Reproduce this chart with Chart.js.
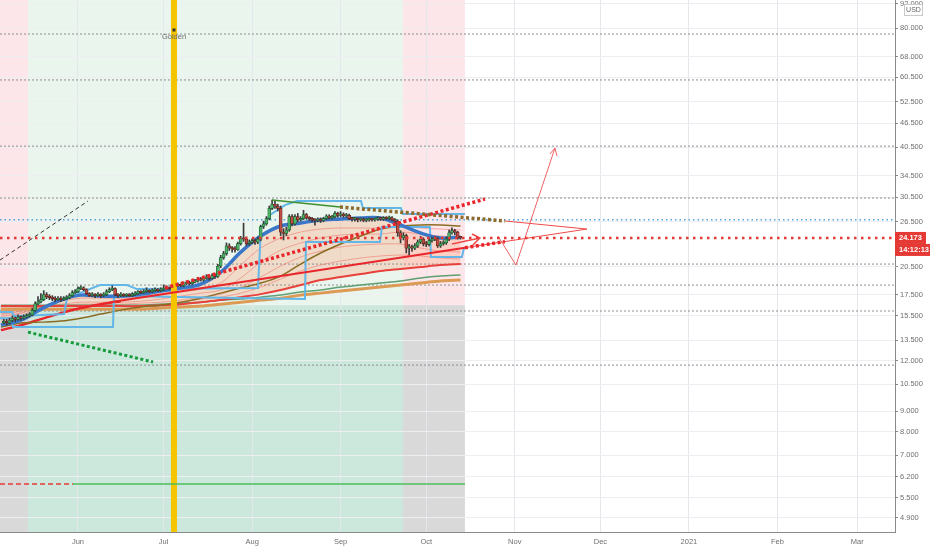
<!DOCTYPE html>
<html>
<head>
<meta charset="utf-8">
<script src="https://cdn.jsdelivr.net/npm/chart.js@4.4.1/dist/chart.umd.min.js"></script>
<style>
  html, body { margin: 0; padding: 0; background: #fff; }
  #wrap { width: 932px; height: 550px; }
</style>
</head>
<body>
<div id="wrap"><canvas id="chart" width="932" height="550"></canvas></div>
<script>
  // x = days since 1 Jun 2020, y = price (log)
  const xMin = -27.32, xMax = 286.2;
  const yMin = 4.522, yMax = 93.85;

  const monthTicks = [0, 30, 61, 92, 122, 153, 183, 214, 245, 273];
  const monthLabels = ["Jun", "Jul", "Aug", "Sep", "Oct", "Nov", "Dec", "2021", "Feb", "Mar"];
  const priceTicks = [4.9, 5.5, 6.2, 7, 8, 9, 10.5, 12, 13.5, 15.5, 17.5, 20.5, 26.5, 30.5, 34.5, 40.5, 46.5, 52.5, 60.5, 68, 80, 92];

  // daily candles, first one on day -26
  const firstDay = -26;
  const closes = [15.0,14.9,15.1,15.3,15.2,15.4,15.3,15.4,15.5,15.6,
    16.0,16.6,16.8,17.0,17.5,17.3,17.2,17.1,17.0,17.1,
    17.0,17.1,17.2,17.4,17.7,17.8,
    18.1,18.2,18.0,17.6,17.4,17.5,17.4,17.5,17.4,17.5,
    17.8,18.0,18.1,17.5,17.4,17.5,17.4,17.5,17.4,17.5,
    17.6,17.8,17.7,17.8,17.9,17.8,17.9,18.0,17.9,18.0,
    18.1,18.2,18.1,18.3,18.4,18.5,18.4,18.6,18.7,18.6,
    18.8,18.9,19.1,19.0,19.2,19.3,19.2,19.5,19.4,20.6,
    21.6,22.1,23.1,22.8,22.7,22.6,23.4,24.1,24.0,23.4,
    23.6,23.8,23.6,24.0,25.8,26.2,27.0,28.6,29.3,29.0,
    28.6,25.0,24.8,25.3,27.3,26.2,27.3,26.8,27.0,27.6,
    27.1,27.0,26.8,26.7,26.9,26.7,27.0,27.4,27.1,27.3,
    27.8,27.5,27.7,27.4,27.5,27.0,26.9,26.9,26.8,26.9,
    26.7,26.8,26.9,26.8,26.9,27.0,26.9,27.1,27.0,27.1,
    26.8,26.6,24.9,24.2,24.5,22.8,22.9,22.8,23.1,23.6,
    24.0,23.4,23.3,23.8,24.0,24.1,23.1,23.4,23.5,24.0,
    24.9,25.2,25.0,24.2,24.173];
  const highs = [15.2,15.2,15.3,15.5,15.4,15.6,15.5,15.6,15.7,15.8,
    16.2,16.8,17.3,17.6,17.9,17.7,17.5,17.4,17.3,17.3,
    17.3,17.3,17.4,17.6,17.9,18.0,
    18.3,18.4,18.3,18.1,17.7,17.7,17.6,17.7,17.6,17.7,
    18.0,18.2,18.4,18.2,17.6,17.7,17.6,17.6,17.6,17.7,
    17.8,17.9,17.9,18.0,18.2,18.0,18.1,18.2,18.1,18.2,
    18.5,18.4,18.3,18.5,18.6,18.7,18.6,18.8,18.9,18.9,
    19.0,19.1,19.3,19.3,19.4,19.6,19.5,19.7,19.7,20.8,
    21.9,22.4,23.5,23.4,23.0,23.0,23.6,24.4,26.3,24.3,
    23.9,24.1,24.0,24.3,26.0,26.6,27.3,29.0,30.0,29.8,
    29.3,29.0,25.5,25.7,27.6,27.6,27.6,27.8,27.3,28.3,
    27.8,27.3,27.2,27.0,27.1,27.1,27.2,27.6,27.6,27.5,
    28.1,28.0,28.1,27.9,27.8,27.7,27.2,27.2,27.1,27.1,
    27.1,27.0,27.1,27.0,27.1,27.3,27.2,27.3,27.3,27.4,
    27.3,27.0,26.8,25.2,24.9,24.7,23.3,23.2,23.4,23.9,
    24.4,24.2,23.7,24.1,24.3,24.4,24.3,23.7,23.8,24.3,
    25.3,25.6,25.4,25.1,24.4];
  const lows = [14.8,14.7,14.8,15.0,15.0,15.1,15.1,15.2,15.3,15.4,
    15.5,15.9,16.5,16.7,16.9,17.1,17.0,16.9,16.8,16.9,
    16.8,16.9,17.0,17.1,17.3,17.6,
    17.7,18.0,17.9,17.5,17.3,17.3,17.2,17.3,17.2,17.3,
    17.4,17.7,17.9,17.4,17.2,17.3,17.3,17.3,17.3,17.3,
    17.4,17.5,17.6,17.6,17.7,17.7,17.7,17.8,17.8,17.8,
    17.9,18.0,18.0,18.0,18.2,18.3,18.3,18.3,18.5,18.5,
    18.5,18.7,18.8,18.9,18.9,19.1,19.0,19.1,19.2,19.3,
    20.4,21.4,21.9,22.5,22.3,22.3,22.5,23.2,23.7,23.1,
    23.2,23.4,23.3,23.4,23.8,25.5,26.0,26.8,28.4,28.6,
    28.2,24.5,23.9,24.5,25.1,25.9,26.0,26.5,26.6,26.8,
    26.9,26.7,26.5,26.0,26.5,26.4,26.5,26.8,26.9,26.9,
    27.1,27.2,27.3,27.2,27.2,26.8,26.6,26.6,26.5,26.6,
    26.5,26.5,26.6,26.6,26.6,26.7,26.7,26.7,26.8,26.8,
    26.6,26.3,24.4,23.5,23.9,22.2,21.9,22.4,22.6,22.9,
    23.4,23.1,23.0,23.1,23.6,23.8,22.9,22.9,23.2,23.3,
    23.8,24.7,24.6,24.0,24.0];

  // moving averages sampled weekly
  const lineDays = [-27,-20,-13,-6,1,8,15,22,29,36,43,50,57,64,71,78,85,92,99,106,113,120,127,134];
  const emaFast = [14.71,15.13,16.11,16.96,17.45,17.35,17.35,17.55,17.86,18.17,18.59,19.90,22.30,24.44,25.88,26.33,26.78,26.93,27.09,27.09,26.03,24.86,24.16,24.30];
  const maOlive = [14.54,14.88,14.96,15.05,15.30,15.66,16.02,16.30,16.48,16.76,17.15,17.65,18.17,18.69,19.45,20.83,22.18,23.35,24.44,25.43,25.88,26.03,26.03,25.88];
  const maGreen = [16.48,16.48,16.48,16.48,16.48,16.48,16.48,16.48,16.57,16.67,16.76,16.96,17.06,17.25,17.45,17.76,17.96,18.27,18.48,18.69,18.91,19.23,19.45,19.56];
  const maOrange = [16.11,16.11,16.11,16.11,16.11,16.11,16.11,16.11,16.21,16.30,16.39,16.57,16.76,16.96,17.15,17.45,17.65,17.86,18.06,18.27,18.48,18.69,18.91,19.01];
  const maRed = [16.39,16.39,16.39,16.39,16.39,16.39,16.39,16.39,16.48,16.57,16.76,16.96,17.25,17.55,17.96,18.48,19.01,19.34,19.67,20.02,20.25,20.48,20.71,20.83];
  const maRedFast = [14.29,14.71,15.22,15.75,16.21,16.57,16.86,null,null,null,null,null,null,null,null,null,null,null,null,null,null,null,null,null];
  const ribbon1 = [15.48,15.75,16.39,16.86,17.15,17.15,17.15,17.25,17.45,17.76,18.06,18.69,20.71,22.82,24.16,25.00,25.43,25.58,25.58,25.58,25.88,25.58,25.43,25.29];
  const ribbon2 = [15.66,15.93,16.30,16.57,16.76,16.76,16.76,16.86,17.06,17.35,17.65,17.96,19.23,21.07,22.56,23.49,24.16,24.58,24.72,24.72,25.00,24.72,24.44,24.30];
  const ribbon3 = [15.93,16.11,16.30,16.48,16.57,16.57,16.57,16.67,16.76,16.96,17.25,17.55,18.27,19.34,20.59,21.68,22.43,22.96,23.22,23.35,23.35,22.82,22.43,22.30];
  const ribbon4 = [16.11,16.21,16.30,16.39,16.48,16.48,16.48,16.48,16.57,16.76,17.06,17.25,17.65,18.27,19.12,20.02,20.71,21.19,21.56,21.81,21.93,21.81,21.56,21.43];

  // stepped channel lines [day, price]
  const channelFast = [[-27.32,15.84],[-23.12,15.84],[-22.42,15.48],[-4.90,15.66],[-3.85,17.15],[7.71,18.48],[17.16,18.48],[20.67,18.06],[63.05,18.17],[64.10,25.58],[67.25,27.55],[72.50,29.16],[76.71,29.83],[99.12,29.83],[99.82,28.66],[113.13,28.66],[113.84,27.71],[135.55,27.71]];
  const channelSlow = [[-27.32,15.30],[-23.12,15.30],[-22.77,14.54],[12.26,14.54],[12.61,17.35],[21.72,17.35],[60.25,17.15],[79.51,17.06],[79.86,23.62],[105.78,23.62],[106.48,25.74],[123.29,25.74],[123.64,21.68],[134.50,21.68],[135.20,22.82]];

  // drawings [day, price]
  const wedgeTopGreen = [[67.95,30.00],[91.77,28.83]];
  const wedgeTopDots = [[91.77,28.83],[149.56,26.63]];
  const wedgeTopRed = [[149.56,26.63],[178.28,25.43]];
  const wedgeBottom = [[11.21,16.76],[135.55,22.87]];
  const wedgeBottomThin = [[135.55,22.87],[178.28,25.43]];
  const wedgeBottomDots = [[135.55,22.87],[149.56,23.67]];
  const risingDots = [[30.47,18.17],[142.56,30.17]];
  const arrowShaft = [[131.0,23.35],[140.8,24.16]];
  const arrowHead = [[138.0,24.72],[140.8,24.16],[138.35,23.22]];
  const forecast = [[147.11,24.44],[153.42,20.71],[167.08,40.36]];
  const forecastHead = [[165.32,39.0],[167.08,40.36],[167.78,38.56]];
  const blackDash = [[-27.32,21.31],[3.50,29.83]];
  const greenDots = [[-17.51,14.13],[26.27,11.92]];
  const lowLevel = 5.943, lowLevelSplit = -1.75, lowLevelEnd = 135.55;

  const grayLevels = [77.3, 59.5, 40.8, 30.35, 20.83, 18.48, 15.94, 11.71];
  const blueLevel = 26.8;
  const lastPrice = 24.173;
  const countdown = "14:12:13";
  const goldenDay = 33.63, goldenMark = 79.1;

  // background zones
  const zoneEdges = [-27.32, -17.51, 113.84, 135.55];
  const zoneKinds = ["sell", "buy", "sell"];
  const zoneSplit = 16.48;
  const zoneColors = { sell: ["#fde6e9", "#d9d9d9"], buy: ["#e9f5ed", "#cce8dd"] };

  const opens = closes.map((c, i) => i === 0 ? 14.9 : closes[i - 1]);
  const candleDays = closes.map((c, i) => firstDay + i);
  const isUp = closes.map((c, i) => c >= opens[i]);
  const bodyColors = isUp.map(u => u ? "#4cb466" : "#bf4d44");
  const edgeColors = isUp.map(u => u ? "#1f5c33" : "#5c1f1a");

  function pts(list) { return list.map(p => ({ x: p[0], y: p[1] })); }
  function onDays(values) { return lineDays.map((d, i) => ({ x: d, y: values[i] })); }
  function level(v, x0, x1) { return [{ x: x0, y: v }, { x: x1, y: v }]; }
  function line(data, color, width, order, extra) {
    return Object.assign({ type: "line", data: data, borderColor: color, borderWidth: width,
      pointRadius: 0, fill: false, tension: 0, order: order }, extra || {});
  }

  const datasets = [];
  grayLevels.forEach(v => datasets.push(line(level(v, xMin, xMax), "#8f8f8f", 1, 100, { borderDash: [2, 2] })));
  datasets.push(line(level(blueLevel, xMin, xMax), "#4fa3dc", 1.5, 99, { borderDash: [1.5, 3] }));

  [ribbon4, ribbon3, ribbon2, ribbon1].forEach(r =>
    datasets.push(line(onDays(r), "rgba(238,112,104,0.55)", 1, 80, { tension: 0.3 })));
  datasets.push(line(onDays(maOrange), "#dc9a55", 3, 78, { tension: 0.3 }));
  datasets.push(line(onDays(maGreen), "#5f9f72", 1.5, 77, { tension: 0.3 }));
  const redDs = line(onDays(maRed), "#e8413b", 2, 76, { tension: 0.3 });
  datasets.push(redDs);
  datasets.push(line(onDays(maRedFast), "#e8262b", 2.5, 75, { tension: 0.3 }));
  datasets.push(line(onDays(maOlive), "#8a6c22", 1.5, 74, { tension: 0.3 }));

  datasets.push(line(pts(channelSlow), "#62b7e8", 2, 62));
  datasets.push(line(pts(channelFast), "#62b7e8", 2, 61));
  const emaDs = line(onDays(emaFast), "#3a77c9", 3.5, 55, { tension: 0.35 });
  datasets.push(emaDs);
  emaDs.fill = { target: datasets.indexOf(redDs), above: "rgba(255,160,115,0.3)", below: "rgba(255,160,115,0.3)" };

  datasets.push({ type: "bar", data: candleDays.map((d, i) => ({ x: d, y: [lows[i], highs[i]] })),
    backgroundColor: "#3b3b3b", barThickness: 1, grouped: false, order: 40 });
  datasets.push({ type: "bar", data: candleDays.map((d, i) => ({ x: d, y: [opens[i], closes[i]] })),
    backgroundColor: bodyColors, borderColor: edgeColors, borderWidth: 0.7, borderSkipped: false,
    barThickness: 3, minBarLength: 1.5, grouped: false, order: 39 });

  datasets.push(line([{ x: goldenDay, y: yMin }, { x: goldenDay, y: yMax }], "#f5c400", 6, 30));

  datasets.push(line(level(lowLevel, xMin, lowLevelSplit), "#e53935", 1.5, 22, { borderDash: [5, 3] }));
  datasets.push(line(level(lowLevel, lowLevelSplit, lowLevelEnd), "#4cbf5a", 1.5, 22));
  datasets.push(line(pts(blackDash), "#333333", 1, 21, { borderDash: [4, 3] }));
  datasets.push(line(pts(greenDots), "#149a3a", 3, 21, { borderDash: [3, 2.5] }));
  datasets.push(line(pts(wedgeBottom), "#e8262b", 2, 20));
  datasets.push(line(pts(wedgeBottomThin), "#ef4a4a", 1, 20));
  datasets.push(line(pts(wedgeTopGreen), "#3f8f2f", 1.5, 20));
  datasets.push(line(pts(wedgeTopDots), "#8d6a2c", 3.5, 19, { borderDash: [3, 2.5] }));
  datasets.push(line(pts(wedgeTopRed), "#ef4a4a", 1, 20));
  datasets.push(line(pts(wedgeBottomDots), "#e8262b", 3.5, 19, { borderDash: [3, 2.5] }));
  datasets.push(line(pts(risingDots), "#e8262b", 3.5, 19, { borderDash: [3, 2.5] }));
  datasets.push(line(pts(arrowShaft), "#ef4a4a", 1.5, 18));
  datasets.push(line(pts(arrowHead), "#ef4a4a", 1.5, 18));
  datasets.push(line(pts(forecast), "#f06262", 1, 18));
  datasets.push(line(pts(forecastHead), "#f06262", 1, 18));
  datasets.push(line(level(lastPrice, xMin, xMax), "#e53935", 2.5, 10, { borderDash: [2.5, 4.5] }));

  const font = { family: '"Liberation Sans", Arial, sans-serif', size: 7.5 };

  const overlay = {
    id: "overlay",
    beforeDraw(chart) {
      const { ctx, chartArea: a, scales: { x, y } } = chart;
      const ys = y.getPixelForValue(zoneSplit);
      ctx.save();
      for (let i = 0; i < zoneKinds.length; i++) {
        const x0 = Math.max(a.left, x.getPixelForValue(zoneEdges[i]));
        const x1 = x.getPixelForValue(zoneEdges[i + 1]);
        const c = zoneColors[zoneKinds[i]];
        ctx.fillStyle = c[0];
        ctx.fillRect(x0, a.top, x1 - x0, ys - a.top);
        ctx.fillStyle = c[1];
        ctx.fillRect(x0, ys, x1 - x0, a.bottom - ys);
      }
      ctx.restore();
    },
    afterDraw(chart) {
      const { ctx, chartArea: a, scales: { x, y } } = chart;
      ctx.save();
      // golden marker
      const gx = x.getPixelForValue(goldenDay), gy = y.getPixelForValue(goldenMark);
      ctx.fillStyle = "#333";
      ctx.fillRect(gx - 1.5, gy - 1.5, 3, 3);
      ctx.fillStyle = "#6b6b6b";
      ctx.font = '7.5px "Liberation Sans", Arial';
      ctx.textAlign = "center";
      ctx.textBaseline = "middle";
      ctx.fillText("Golden", gx, gy + 7);
      // price + countdown
      const py = y.getPixelForValue(lastPrice);
      ctx.fillStyle = "#e53935";
      ctx.fillRect(a.right, py - 6, 31, 12);
      ctx.fillRect(a.right, py + 6, 35, 12);
      ctx.fillStyle = "#fff";
      ctx.textAlign = "left";
      ctx.font = 'bold 7.5px "Liberation Sans", Arial';
      ctx.fillText(lastPrice.toFixed(3), a.right + 4, py);
      ctx.fillText(countdown, a.right + 4, py + 12);
      // currency box
      ctx.fillStyle = "#fff";
      ctx.strokeStyle = "#c9c9c9";
      ctx.lineWidth = 1;
      ctx.fillRect(a.right + 9.5, 4.5, 18, 11);
      ctx.strokeRect(a.right + 9.5, 4.5, 18, 11);
      ctx.fillStyle = "#666";
      ctx.font = '7px "Liberation Sans", Arial';
      ctx.textAlign = "center";
      ctx.fillText("USD", a.right + 18.5, 10.5);
      ctx.restore();
    }
  };

  new Chart(document.getElementById("chart"), {
    type: "line",
    data: { datasets: datasets },
    options: {
      responsive: false,
      animation: false,
      events: [],
      layout: { padding: 0 },
      plugins: { legend: { display: false }, tooltip: { enabled: false }, filler: { drawTime: "beforeDatasetsDraw" } },
      scales: {
        x: {
          type: "linear", min: xMin, max: xMax, bounds: "data", offset: false,
          afterBuildTicks: s => { s.ticks = monthTicks.map(v => ({ value: v })); },
          afterFit: s => { s.height = 18; s.paddingLeft = 0; s.paddingRight = 0; },
          grid: { color: "#e4e7eb", drawTicks: false, offset: false },
          border: { color: "#8a8a8a" },
          ticks: { autoSkip: false, maxRotation: 0, padding: 5, color: "#6f6f6f", font: font,
            callback: (v, i) => monthLabels[i] }
        },
        y: {
          type: "logarithmic", position: "right", min: yMin, max: yMax, bounds: "data",
          afterBuildTicks: s => { s.ticks = priceTicks.map(v => ({ value: v })); },
          afterFit: s => { s.width = 37; s.paddingTop = 0; s.paddingBottom = 0; },
          grid: { color: "#eceef1", tickLength: 3, tickColor: "#8a8a8a" },
          border: { color: "#8a8a8a" },
          ticks: { autoSkip: false, padding: 2, color: "#6f6f6f", font: font,
            callback: (v, i) => priceTicks[i].toFixed(3) }
        }
      }
    },
    plugins: [overlay]
  });
</script>
</body>
</html>
